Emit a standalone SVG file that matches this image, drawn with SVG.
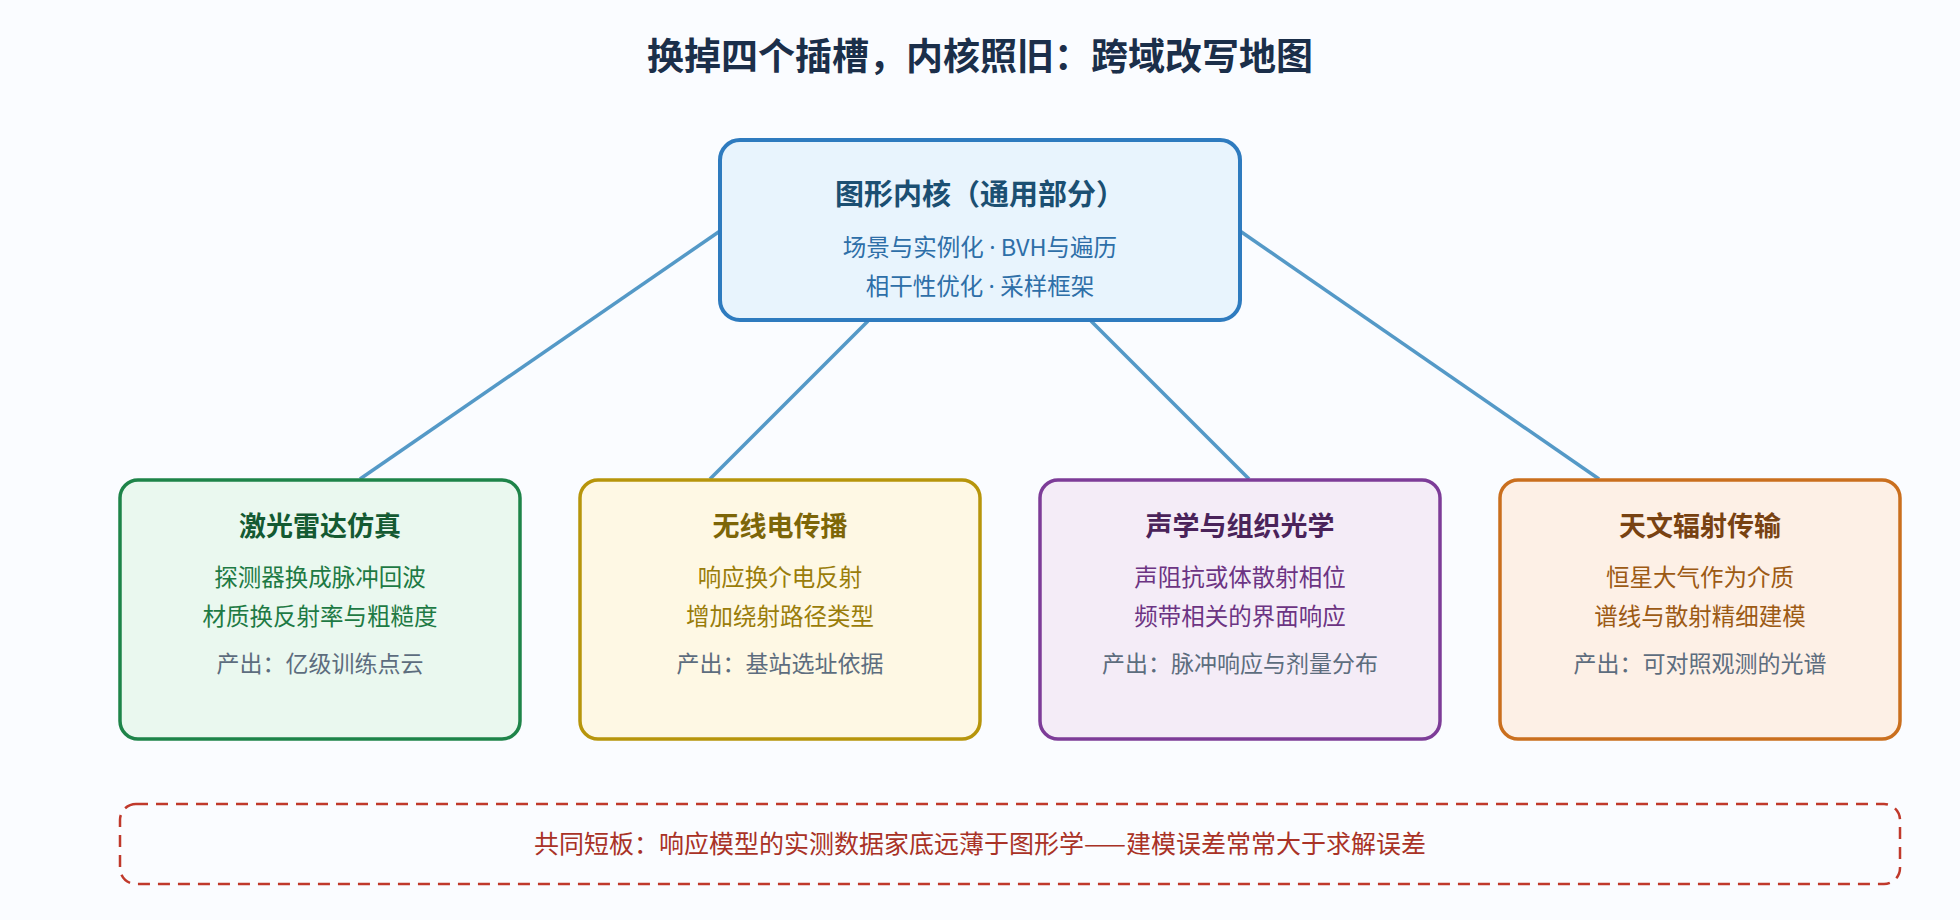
<svg xmlns="http://www.w3.org/2000/svg" width="1960" height="920" viewBox="0 0 1960 920">
<style>
text{font-family:"Noto Sans CJK SC","Noto Sans",sans-serif;text-anchor:middle}
.t{font-size:27px;font-weight:bold}
.l{font-size:23.5px}
.o{font-size:23px;fill:#5d6d7e}
.box{stroke-width:3.5}
.conn{stroke:#5499c7;stroke-width:3.5;fill:none}
.d{font-family:"Noto Sans",sans-serif}
</style>
<rect width="1960" height="920" fill="#fafcff"/>
<text x="980" y="70" style="font-size:37px;font-weight:bold" fill="#1b2f4a">换掉四个插槽，内核照旧：跨域改写地图</text>
<g id="connectors">
<line class="conn" x1="720" y1="231" x2="360" y2="479"/>
<line class="conn" x1="868" y1="321" x2="710" y2="479"/>
<line class="conn" x1="1091" y1="321" x2="1249" y2="479"/>
<line class="conn" x1="1240" y1="231" x2="1599" y2="479"/>
</g>
<g id="core">
<rect x="720" y="140" width="520" height="180" rx="20" fill="#e8f4fd" stroke="#2e7bbf" stroke-width="4"/>
<text x="980" y="205" style="font-size:29px;font-weight:bold" fill="#1b4f72">图形内核（通用部分）</text>
<text x="980" y="256" class="l" fill="#2e6fa8">场景与实例化 <tspan class="d">·</tspan> BVH与遍历</text>
<text x="980" y="295" class="l" fill="#2e6fa8">相干性优化 <tspan class="d">·</tspan> 采样框架</text>
</g>
<g id="lidar">
<rect x="120" y="480" width="400" height="259" rx="18" class="box" fill="#eaf8ef" stroke="#1e8449"/>
<text x="320" y="536" class="t" fill="#145a32">激光雷达仿真</text>
<text x="320" y="586" class="l" fill="#1e7a44">探测器换成脉冲回波</text>
<text x="320" y="625" class="l" fill="#1e7a44">材质换反射率与粗糙度</text>
<text x="320" y="672" class="o">产出：亿级训练点云</text>
</g>
<g id="radio">
<rect x="580" y="480" width="400" height="259" rx="18" class="box" fill="#fef8e4" stroke="#b7950b"/>
<text x="780" y="536" class="t" fill="#7d6608">无线电传播</text>
<text x="780" y="586" class="l" fill="#9a7d0a">响应换介电反射</text>
<text x="780" y="625" class="l" fill="#9a7d0a">增加绕射路径类型</text>
<text x="780" y="672" class="o">产出：基站选址依据</text>
</g>
<g id="acoustic">
<rect x="1040" y="480" width="400" height="259" rx="18" class="box" fill="#f4ecf7" stroke="#7d3c98"/>
<text x="1240" y="536" class="t" fill="#4a235a">声学与组织光学</text>
<text x="1240" y="586" class="l" fill="#6c3483">声阻抗或体散射相位</text>
<text x="1240" y="625" class="l" fill="#6c3483">频带相关的界面响应</text>
<text x="1240" y="672" class="o">产出：脉冲响应与剂量分布</text>
</g>
<g id="astro">
<rect x="1500" y="480" width="400" height="259" rx="18" class="box" fill="#fdf0e6" stroke="#ca6f1e"/>
<text x="1700" y="536" class="t" fill="#784212">天文辐射传输</text>
<text x="1700" y="586" class="l" fill="#9c5a14">恒星大气作为介质</text>
<text x="1700" y="625" class="l" fill="#9c5a14">谱线与散射精细建模</text>
<text x="1700" y="672" class="o">产出：可对照观测的光谱</text>
</g>
<g id="note">
<rect x="120" y="804" width="1780" height="80" rx="16" fill="none" stroke="#c0392b" stroke-width="2.5" stroke-dasharray="12 8"/>
<text x="980" y="853" style="font-size:25px" fill="#a93226">共同短板：响应模型的实测数据家底远薄于图形学——建模误差常常大于求解误差</text>
</g>
</svg>
